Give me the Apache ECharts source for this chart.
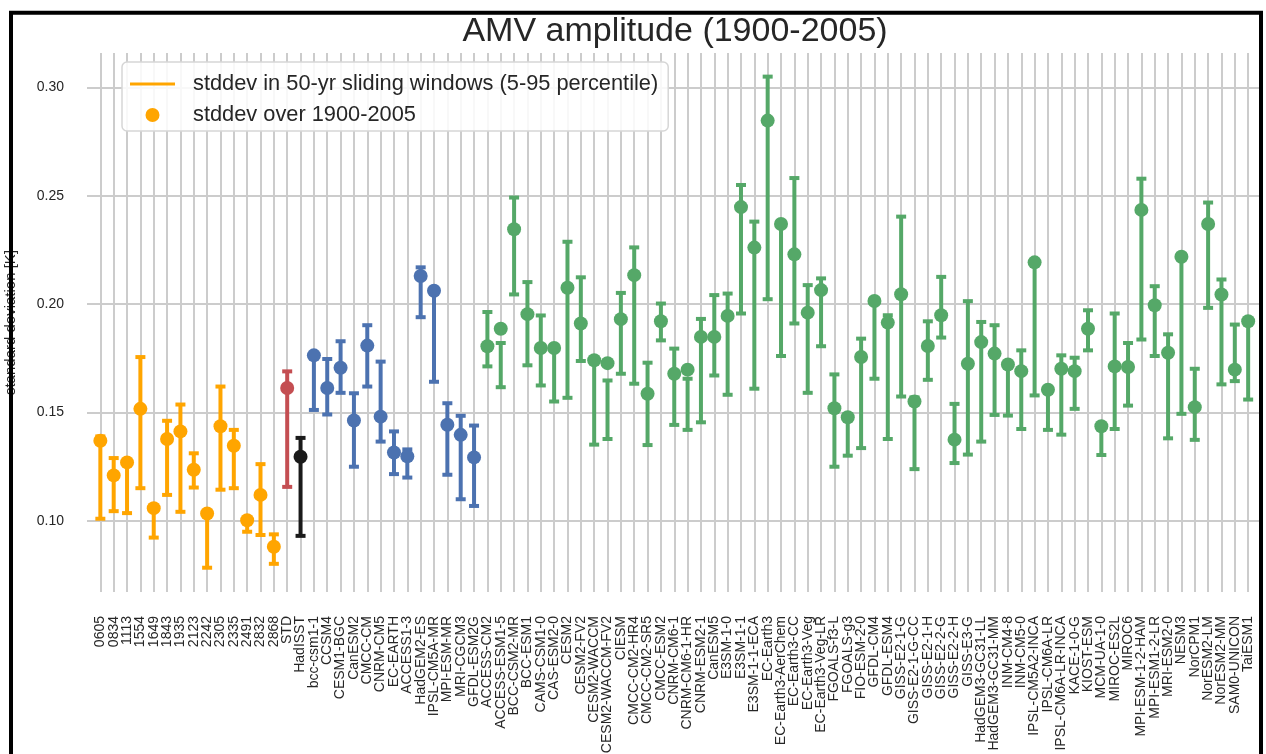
<!DOCTYPE html>
<html>
<head>
<meta charset="utf-8">
<title>AMV amplitude (1900-2005)</title>
<script src="https://cdn.jsdelivr.net/npm/echarts@6/dist/echarts.min.js"></script>
<style>
  html, body { margin: 0; padding: 0; background: #ffffff; }
  #chart { width: 1266px; height: 754px; }
</style>
</head>
<body>
<div id="chart"></div>
<script>
// Members / models along the x axis
const models = [
  '0605', '0834', '1113', '1554', '1649', '1843', '1935', '2123', '2242', '2305',
  '2335', '2491', '2832', '2868', 'STD', 'HadISST',
  'bcc-csm1-1', 'CCSM4', 'CESM1-BGC', 'CanESM2', 'CMCC-CM', 'CNRM-CM5', 'EC-EARTH',
  'ACCESS1-3', 'HadGEM2-ES', 'IPSL-CM5A-MR', 'MPI-ESM-MR', 'MRI-CGCM3', 'GFDL-ESM2G',
  'ACCESS-CM2', 'ACCESS-ESM1-5', 'BCC-CSM2-MR', 'BCC-ESM1', 'CAMS-CSM1-0', 'CAS-ESM2-0',
  'CESM2', 'CESM2-FV2', 'CESM2-WACCM', 'CESM2-WACCM-FV2', 'CIESM', 'CMCC-CM2-HR4',
  'CMCC-CM2-SR5', 'CMCC-ESM2', 'CNRM-CM6-1', 'CNRM-CM6-1-HR', 'CNRM-ESM2-1', 'CanESM5',
  'E3SM-1-0', 'E3SM-1-1', 'E3SM-1-1-ECA', 'EC-Earth3', 'EC-Earth3-AerChem', 'EC-Earth3-CC',
  'EC-Earth3-Veg', 'EC-Earth3-Veg-LR', 'FGOALS-f3-L', 'FGOALS-g3', 'FIO-ESM-2-0', 'GFDL-CM4',
  'GFDL-ESM4', 'GISS-E2-1-G', 'GISS-E2-1-G-CC', 'GISS-E2-1-H', 'GISS-E2-2-G', 'GISS-E2-2-H',
  'GISS-E3-G', 'HadGEM3-GC31-LL', 'HadGEM3-GC31-MM', 'INM-CM4-8', 'INM-CM5-0',
  'IPSL-CM5A2-INCA', 'IPSL-CM6A-LR', 'IPSL-CM6A-LR-INCA', 'KACE-1-0-G', 'KIOST-ESM',
  'MCM-UA-1-0', 'MIROC-ES2L', 'MIROC6', 'MPI-ESM-1-2-HAM', 'MPI-ESM1-2-LR', 'MRI-ESM2-0',
  'NESM3', 'NorCPM1', 'NorESM2-LM', 'NorESM2-MM', 'SAM0-UNICON', 'TaiESM1'
];

// Ensemble group of each entry (sets its colour)
const groups = [
  'member', 'member', 'member', 'member', 'member', 'member', 'member', 'member', 'member', 'member',
  'member', 'member', 'member', 'member', 'std', 'obs',
  'cmip5', 'cmip5', 'cmip5', 'cmip5', 'cmip5', 'cmip5', 'cmip5',
  'cmip5', 'cmip5', 'cmip5', 'cmip5', 'cmip5', 'cmip5',
  'cmip6', 'cmip6', 'cmip6', 'cmip6', 'cmip6', 'cmip6',
  'cmip6', 'cmip6', 'cmip6', 'cmip6', 'cmip6', 'cmip6',
  'cmip6', 'cmip6', 'cmip6', 'cmip6', 'cmip6', 'cmip6',
  'cmip6', 'cmip6', 'cmip6', 'cmip6', 'cmip6', 'cmip6',
  'cmip6', 'cmip6', 'cmip6', 'cmip6', 'cmip6', 'cmip6',
  'cmip6', 'cmip6', 'cmip6', 'cmip6', 'cmip6', 'cmip6',
  'cmip6', 'cmip6', 'cmip6', 'cmip6', 'cmip6',
  'cmip6', 'cmip6', 'cmip6', 'cmip6', 'cmip6',
  'cmip6', 'cmip6', 'cmip6', 'cmip6', 'cmip6', 'cmip6',
  'cmip6', 'cmip6', 'cmip6', 'cmip6', 'cmip6', 'cmip6'
];

// stddev over 1900-2005 [K]
const stdFull = [
  0.1370, 0.1210, 0.1270, 0.1517, 0.1059, 0.1378, 0.1413, 0.1236, 0.1034, 0.1437,
  0.1347, 0.1003, 0.1120, 0.0881, 0.1613, 0.1296,
  0.1764, 0.1613, 0.1707, 0.1463, 0.1809, 0.1481, 0.1316,
  0.1298, 0.2130, 0.2062, 0.1444, 0.1397, 0.1293,
  0.1806, 0.1887, 0.2346, 0.1954, 0.1798, 0.1798,
  0.2076, 0.1911, 0.1741, 0.1728, 0.1931, 0.2134,
  0.1587, 0.1921, 0.1679, 0.1698, 0.1849, 0.1849,
  0.1946, 0.2448, 0.2261, 0.2847, 0.2370, 0.2230,
  0.1961, 0.2065, 0.1520, 0.1478, 0.1756, 0.2015,
  0.1915, 0.2046, 0.1551, 0.1807, 0.1949, 0.1375,
  0.1725, 0.1825, 0.1772, 0.1722, 0.1691,
  0.2193, 0.1605, 0.1702, 0.1691, 0.1887,
  0.1437, 0.1713, 0.1710, 0.2435, 0.1995, 0.1776,
  0.2219, 0.1525, 0.2370, 0.2045, 0.1698, 0.1921
];

// 5th percentile of stddev in 50-yr sliding windows [K]
const p05 = [
  0.1010, 0.1045, 0.1036, 0.1151, 0.0923, 0.1120, 0.1042, 0.1154, 0.0784, 0.1144,
  0.1151, 0.0950, 0.0935, 0.0802, 0.1157, 0.0931,
  0.1512, 0.1491, 0.1591, 0.1250, 0.1620, 0.1366, 0.1216,
  0.1200, 0.1940, 0.1642, 0.1213, 0.1100, 0.1069,
  0.1713, 0.1617, 0.2045, 0.1718, 0.1625, 0.1551,
  0.1568, 0.1738, 0.1352, 0.1378, 0.1679, 0.1633,
  0.1350, 0.1833, 0.1443, 0.1420, 0.1455, 0.1671,
  0.1582, 0.1957, 0.1610, 0.2023, 0.1761, 0.1911,
  0.1591, 0.1806, 0.1250, 0.1301, 0.1336, 0.1656,
  0.1378, 0.1574, 0.1239, 0.1651, 0.1846, 0.1267,
  0.1306, 0.1366, 0.1489, 0.1486, 0.1424,
  0.1579, 0.1420, 0.1398, 0.1517, 0.1787,
  0.1304, 0.1424, 0.1532, 0.1837, 0.1761, 0.1381,
  0.1494, 0.1374, 0.1983, 0.1630, 0.1645, 0.1560
];

// 95th percentile of stddev in 50-yr sliding windows [K]
const p95 = [
  0.1390, 0.1290, 0.1280, 0.1756, 0.1070, 0.1462, 0.1537, 0.1312, 0.1040, 0.1620,
  0.1420, 0.1010, 0.1262, 0.0938, 0.1690, 0.1383,
  0.1770, 0.1747, 0.1829, 0.1589, 0.1903, 0.1735, 0.1413,
  0.1330, 0.2170, 0.2075, 0.1543, 0.1485, 0.1440,
  0.1964, 0.1821, 0.2492, 0.2102, 0.1948, 0.1810,
  0.2288, 0.2124, 0.1750, 0.1648, 0.2052, 0.2262,
  0.1730, 0.2003, 0.1795, 0.1656, 0.1932, 0.2042,
  0.2049, 0.2550, 0.2381, 0.3050, 0.2380, 0.2582,
  0.2088, 0.2119, 0.1676, 0.1490, 0.1841, 0.2025,
  0.1949, 0.2404, 0.1570, 0.1921, 0.2126, 0.1540,
  0.2014, 0.1918, 0.1903, 0.1730, 0.1787,
  0.2200, 0.1610, 0.1764, 0.1753, 0.1972,
  0.1440, 0.1957, 0.1821, 0.2579, 0.2083, 0.1861,
  0.2230, 0.1702, 0.2469, 0.2114, 0.1906, 0.1930
];

// Tick values on the y axis
const yTicks = [0.10, 0.15, 0.20, 0.25, 0.30];

const groupColors = {
  member: '#FFA500',
  std: '#C44E52',
  obs: '#1a1a1a',
  cmip5: '#4C72B0',
  cmip6: '#55A868'
};

const FONT = '"Liberation Sans", Arial, Helvetica, sans-serif';
const TEXT = '#262626';
const GRID = '#cccccc';

// x positions: one per model, axis spans -1 .. 87
const X_MIN = -1;
const X_MAX = models.length;
const xIdx = models.map((_, i) => i);
// label slots padded with the (blank, hidden) axis ends
const xLabelSlots = [X_MIN].concat(xIdx, [X_MAX]);

const barData = models.map((_, i) => ({
  value: [i, p05[i], p95[i]],
  itemStyle: { color: groupColors[groups[i]] }
}));

const pointData = models.map((_, i) => ({
  value: [i, stdFull[i]],
  itemStyle: { color: groupColors[groups[i]] }
}));

const LEG_RANGE = 'stddev in 50-yr sliding windows (5-95 percentile)';
const LEG_FULL = 'stddev over 1900-2005';

// error bar with caps at both ends
function renderErrorBar(params, api) {
  const x = api.value(0);
  const lo = api.coord([x, api.value(1)]);
  const hi = api.coord([x, api.value(2)]);
  const color = api.visual('color');
  const cap = 5;
  return {
    type: 'group',
    children: [
      { type: 'line', shape: { x1: lo[0], y1: lo[1], x2: hi[0], y2: hi[1] },
        style: { stroke: color, lineWidth: 4 } },
      { type: 'line', shape: { x1: lo[0] - cap, y1: lo[1], x2: lo[0] + cap, y2: lo[1] },
        style: { stroke: color, lineWidth: 4 } },
      { type: 'line', shape: { x1: hi[0] - cap, y1: hi[1], x2: hi[0] + cap, y2: hi[1] },
        style: { stroke: color, lineWidth: 4 } }
    ]
  };
}

const chart = echarts.init(document.getElementById('chart'), null, { renderer: 'canvas' });

chart.setOption({
  animation: false,
  backgroundColor: '#ffffff',
  title: {
    text: 'AMV amplitude (1900-2005)',
    left: 670,
    top: 10,
    textAlign: 'center',
    textStyle: { fontFamily: FONT, fontSize: 34, fontWeight: 'normal', color: TEXT }
  },
  legend: {
    orient: 'vertical',
    left: 122,
    top: 62,
    padding: [11, 10, 5, 8],
    itemGap: 9,
    itemWidth: 45,
    itemHeight: 14,
    backgroundColor: 'rgba(255,255,255,0.85)',
    borderColor: '#d6d6d6',
    borderWidth: 1.5,
    borderRadius: 5,
    textStyle: { fontFamily: FONT, fontSize: 21.8, color: TEXT, padding: [0, 0, 0, 13] },
    data: [
      { name: LEG_RANGE, icon: 'path://M0,0 L45,0 L45,3 L0,3 Z' },
      { name: LEG_FULL, icon: 'circle' }
    ]
  },
  grid: {
    left: 87, top: 53, width: 1174.5, height: 539,
    containLabel: false,
    outerBoundsMode: 'none'
  },
  xAxis: {
    type: 'value',
    min: X_MIN,
    max: X_MAX,
    axisLine: { show: false },
    axisTick: { show: false, customValues: xIdx },
    splitLine: { show: true, lineStyle: { color: GRID, width: 2 } },
    axisLabel: {
      customValues: xLabelSlots,
      showMinLabel: false,
      showMaxLabel: false,
      hideOverlap: false,
      rotate: 90,
      margin: 24,
      fontFamily: FONT,
      fontSize: 14,
      color: TEXT,
      formatter: (v) => {
        const i = Math.round(v);
        return (i >= 0 && i < models.length) ? models[i] : '';
      }
    }
  },
  yAxis: {
    type: 'value',
    min: 0.0672,
    max: 0.3159,
    name: 'standard deviation [K]',
    nameLocation: 'middle',
    nameRotate: 90,
    nameGap: 69,
    nameTextStyle: { fontFamily: FONT, fontSize: 15, color: TEXT },
    axisLine: { show: false },
    axisTick: { show: false, customValues: yTicks },
    splitLine: { show: true, lineStyle: { color: GRID, width: 2 } },
    axisLabel: {
      customValues: yTicks,
      margin: 23,
      fontFamily: FONT,
      fontSize: 14,
      color: TEXT,
      formatter: (v) => v.toFixed(2)
    }
  },
  series: [
    {
      name: LEG_RANGE,
      type: 'custom',
      itemStyle: { color: '#FFA500' },
      renderItem: renderErrorBar,
      encode: { x: 0, y: [1, 2] },
      data: barData,
      z: 2
    },
    {
      name: LEG_FULL,
      type: 'scatter',
      symbol: 'circle',
      symbolSize: 14,
      itemStyle: { color: '#FFA500', opacity: 1 },
      data: pointData,
      z: 3
    }
  ],
  graphic: [
    {
      type: 'rect',
      silent: true,
      z: 100,
      shape: { x: 11, y: 12.7, width: 1250, height: 780 },
      style: { fill: 'none', stroke: '#000000', lineWidth: 4 }
    }
  ]
});
</script>
</body>
</html>
